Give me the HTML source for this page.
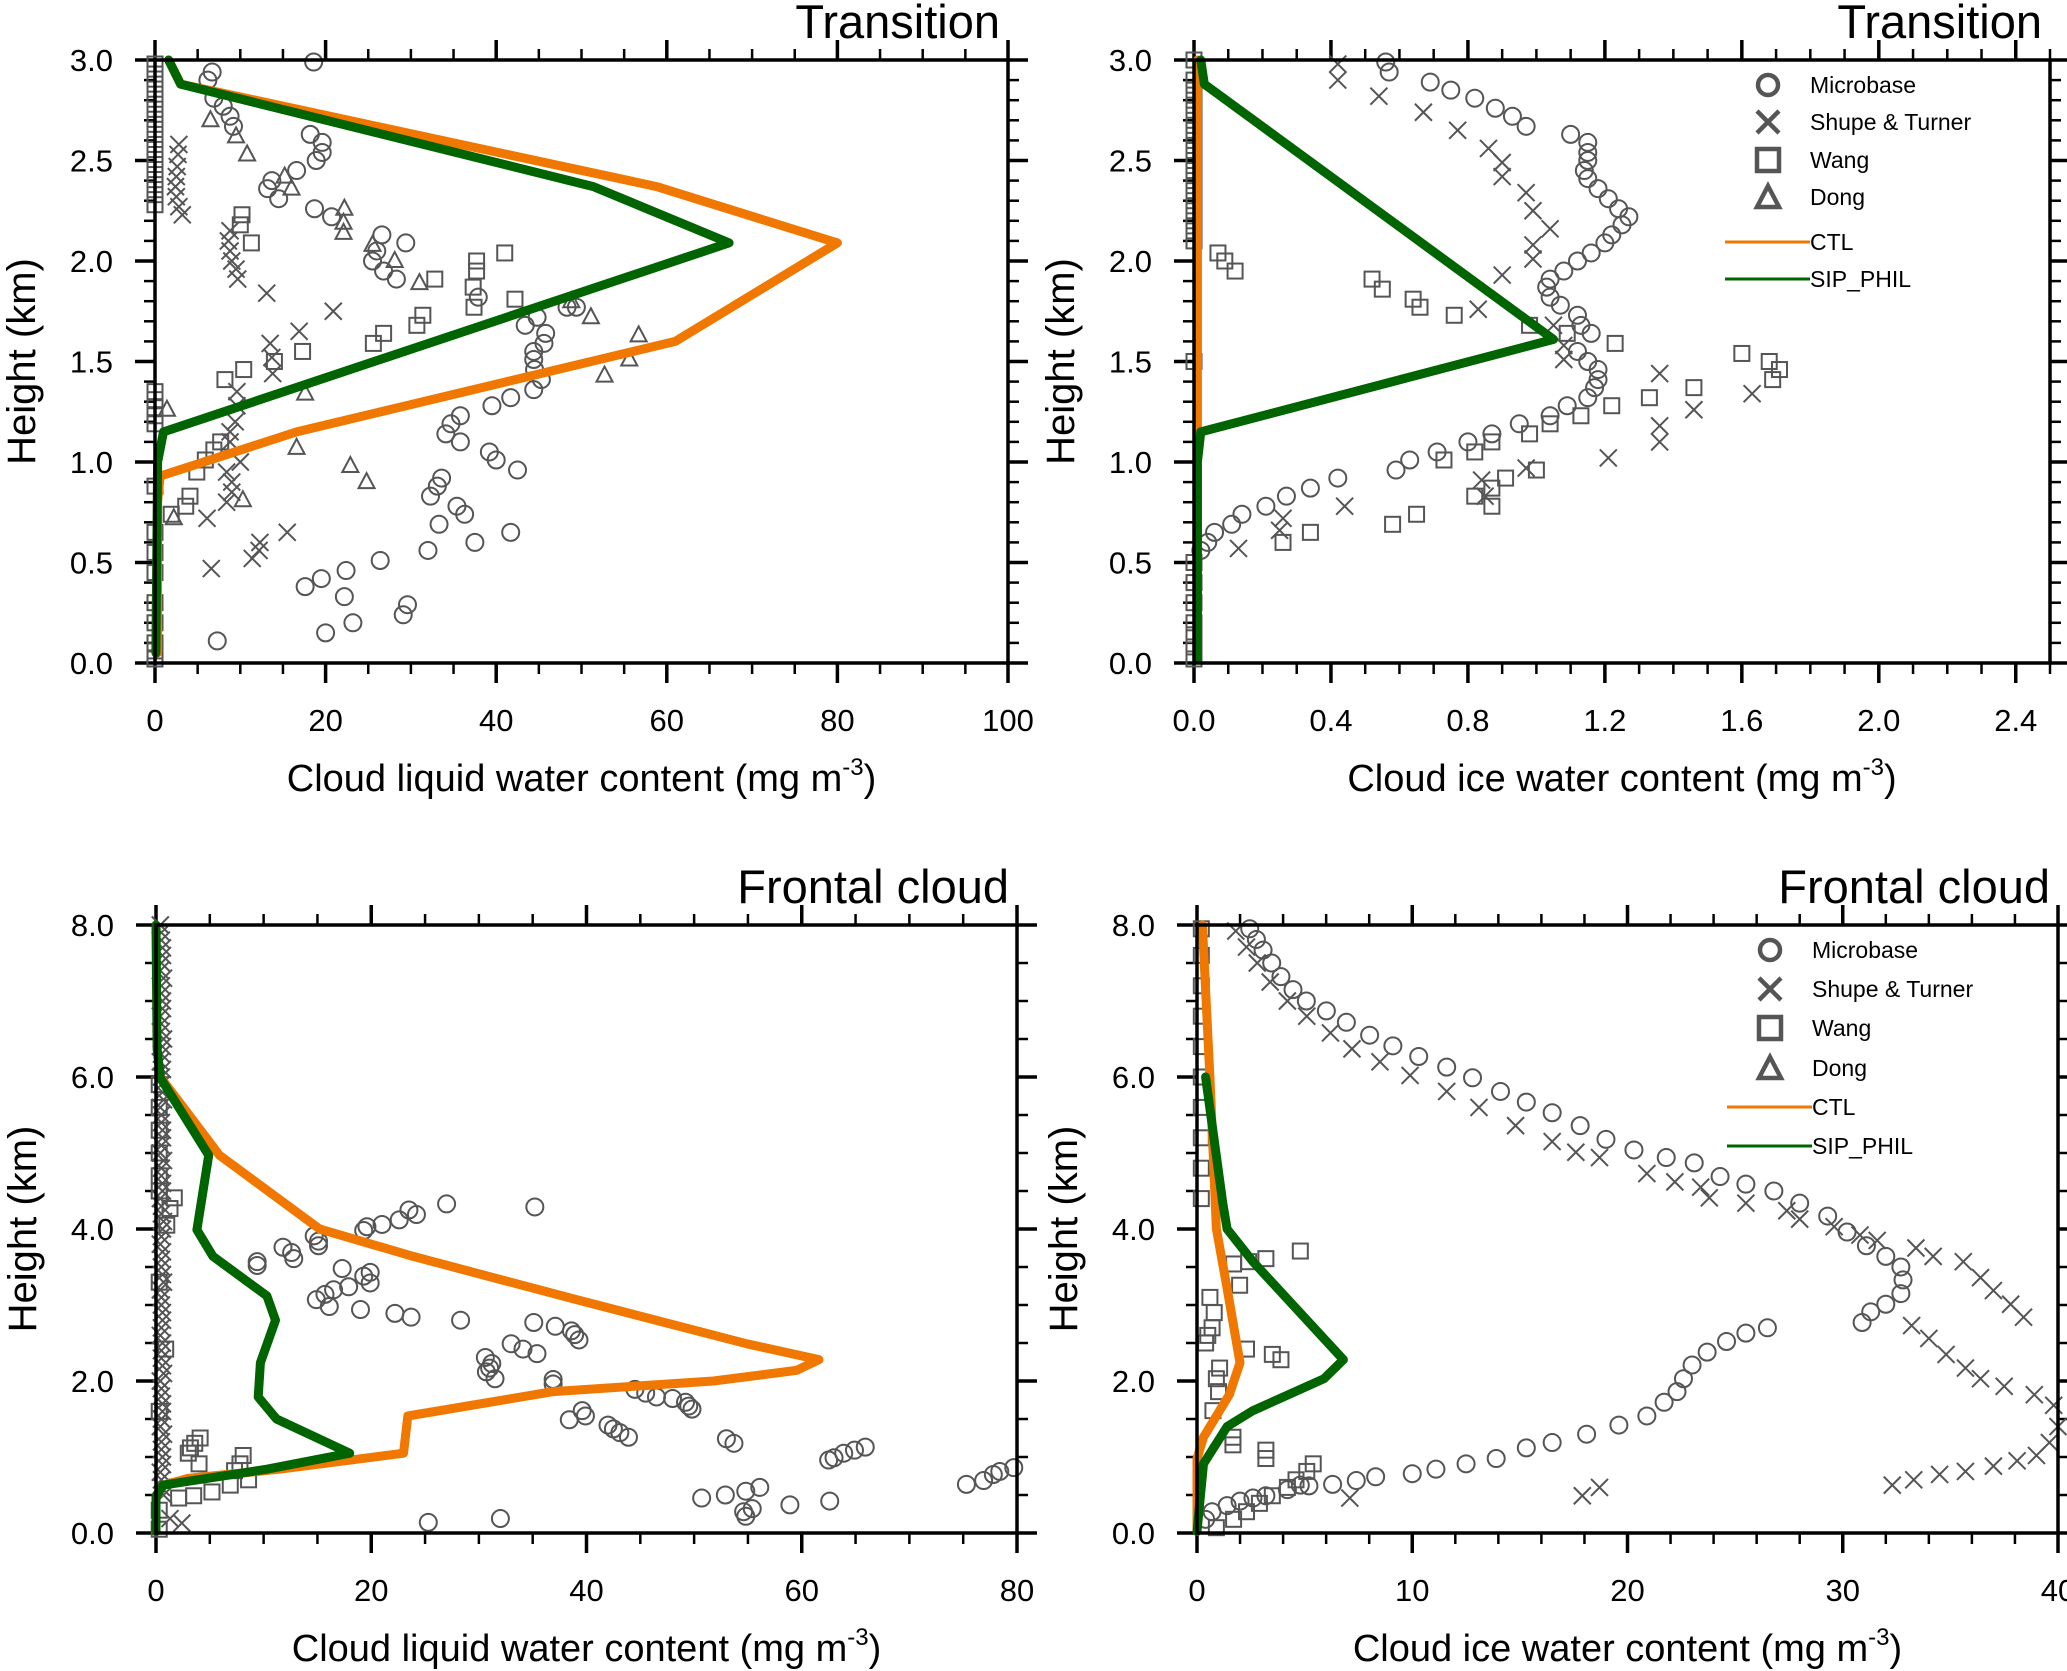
<!DOCTYPE html>
<html><head><meta charset="utf-8">
<style>
html,body{margin:0;padding:0;background:#fff;}
svg{display:block;font-family:"Liberation Sans",Arial,sans-serif;}
</style></head>
<body>
<svg id="fig" width="2067" height="1671" viewBox="0 0 2067 1671" xmlns="http://www.w3.org/2000/svg"></svg>
<script>
// ---------- DATA: Top-left (Transition, liquid) ----------
const tlCircX=[18.6,6.7,6.2,6.9,8.0,8.8,9.2,18.2,19.6,19.6,18.9,16.6,13.7,13.2,14.5,18.7,20.7,26.6,29.4,26.0,25.5,26.8,28.3,37.9,48.3,49.4,43.4,44.8,45.8,45.6,44.4,44.4,44.5,45.3,44.4,41.7,39.5,35.8,34.7,34.1,35.8,39.2,40.0,42.5,33.6,33.1,32.3,35.4,36.3,33.3,37.5,41.7,32.0,26.4,22.4,19.5,17.6,22.2,29.6,29.1,23.2,20.0,7.3];
const tlCircY=[2.99,2.94,2.9,2.81,2.77,2.72,2.67,2.63,2.59,2.54,2.5,2.45,2.4,2.36,2.31,2.26,2.22,2.13,2.09,2.05,2.0,1.95,1.91,1.82,1.77,1.77,1.68,1.72,1.64,1.59,1.55,1.51,1.46,1.41,1.36,1.32,1.28,1.23,1.19,1.14,1.1,1.05,1.01,0.96,0.92,0.88,0.83,0.78,0.74,0.69,0.6,0.65,0.56,0.51,0.46,0.42,0.38,0.33,0.29,0.24,0.2,0.15,0.11];
const tlCrossX=[2.8,2.7,2.6,2.5,2.4,2.5,2.8,3.2,8.8,8.6,8.8,9.0,9.5,9.7,13.1,20.9,16.9,13.5,13.7,13.8,9.6,9.6,9.4,8.8,8.8,10,8.4,9.0,9.0,8.4,6.1,15.5,12.3,12.2,11.4,6.6];
const tlCrossY=[2.58,2.53,2.47,2.42,2.37,2.32,2.27,2.23,2.15,2.1,2.05,2.0,1.96,1.91,1.84,1.75,1.65,1.59,1.52,1.44,1.35,1.28,1.2,1.15,1.1,1.0,0.95,0.9,0.85,0.8,0.72,0.65,0.6,0.56,0.52,0.47];
const tlSqX=[10.2,10.0,11.3,32.8,37.7,37.7,37.3,41.0,42.2,37.4,31.4,30.7,26.8,25.6,17.3,14.0,10.4,8.2,7.7,6.9,5.9,4.9,4.1,3.6,1.9,0,0,0,0,0,0,0,0,0,0,0,0,0,0,0,0,0,0,0,0,0,0,0,0,0,0,0,0,0];
const tlSqY=[2.23,2.18,2.09,1.91,2.0,1.95,1.87,2.04,1.81,1.77,1.73,1.68,1.64,1.59,1.55,1.5,1.46,1.41,1.1,1.06,1.01,0.95,0.83,0.78,0.74,2.28,2.33,2.38,2.43,2.48,2.53,2.58,2.63,2.68,2.73,2.78,2.83,2.88,2.93,2.98,1.19,1.23,1.27,1.31,1.35,0.88,0.02,0.06,0.1,0.3,0.45,0.55,0.65,0.2];
const tlTriX=[6.5,9.5,10.8,15.2,16.0,22.2,22.1,22.1,25.5,28.1,31.0,48.8,51.1,56.7,55.6,52.7,17.6,1.4,16.6,22.9,24.8,10.3,2.2];
const tlTriY=[2.7,2.62,2.53,2.42,2.36,2.26,2.19,2.14,2.08,2.0,1.89,1.8,1.72,1.63,1.51,1.43,1.34,1.26,1.07,0.98,0.9,0.81,0.72];
const tlCtlX=[1.6,3,58.8,80,61,16.6,0.6,0.3,0.3];
const tlCtlY=[3.0,2.88,2.37,2.09,1.6,1.15,0.93,0.8,0.05];
const tlSipX=[1.6,3,51.4,67.3,1.0,0.3,0.1];
const tlSipY=[3.0,2.88,2.37,2.09,1.15,1.0,0.05];
const tlXTicks=[0,20,40,60,80,100];
const tlXTickLabels=["0","20","40","60","80","100"];
const tlYTicks=[0,0.5,1,1.5,2,2.5,3];
const tlYTickLabels=["0.0","0.5","1.0","1.5","2.0","2.5","3.0"];

// ---------- DATA: Top-right (Transition, ice) ----------
const trCircX=[0.56,0.57,0.69,0.75,0.82,0.88,0.93,0.97,1.10,1.15,1.15,1.15,1.14,1.15,1.18,1.21,1.24,1.27,1.25,1.22,1.2,1.16,1.12,1.08,1.04,1.03,1.04,1.07,1.12,1.13,1.16,1.12,1.15,1.18,1.18,1.17,1.15,1.09,1.04,0.95,0.87,0.8,0.71,0.63,0.59,0.42,0.34,0.27,0.21,0.14,0.11,0.06,0.04,0.02];
const trCircY=[2.99,2.94,2.89,2.85,2.81,2.76,2.72,2.67,2.63,2.59,2.54,2.5,2.45,2.41,2.36,2.31,2.26,2.22,2.18,2.13,2.09,2.04,2.0,1.95,1.91,1.87,1.82,1.78,1.73,1.68,1.64,1.55,1.5,1.46,1.41,1.37,1.32,1.28,1.23,1.19,1.14,1.1,1.05,1.01,0.96,0.92,0.87,0.83,0.78,0.74,0.69,0.65,0.6,0.56];
const trCrossX=[0.42,0.42,0.54,0.67,0.77,0.86,0.9,0.9,0.97,0.99,1.04,0.99,0.99,0.9,0.83,1.05,1.08,1.08,1.36,1.63,1.46,1.36,1.36,1.21,0.97,0.84,0.85,0.44,0.26,0.25,0.13];
const trCrossY=[2.98,2.9,2.82,2.74,2.65,2.56,2.49,2.42,2.34,2.25,2.16,2.08,2.01,1.93,1.76,1.68,1.58,1.51,1.44,1.34,1.26,1.18,1.1,1.02,0.97,0.91,0.83,0.78,0.72,0.66,0.57];
const trSqX=[0.07,0.09,0.12,0.52,0.55,0.64,0.66,0.76,0.98,1.09,1.23,1.6,1.68,1.71,1.69,1.46,1.33,1.22,1.13,1.04,0.98,0.87,0.82,0.73,1.0,0.91,0.87,0.82,0.87,0.65,0.58,0.34,0.26,0,0,0,0,0,0,0,0,0,0,0,0,0,0,0,0,0,0,0,0,0,0,0,0,0,0];
const trSqY=[2.04,2.0,1.95,1.91,1.86,1.81,1.77,1.73,1.68,1.64,1.59,1.54,1.5,1.46,1.41,1.37,1.32,1.28,1.23,1.19,1.14,1.1,1.05,1.01,0.96,0.92,0.87,0.83,0.78,0.74,0.69,0.65,0.6,2.1,2.2,2.3,2.4,2.5,2.6,2.7,2.8,2.9,3.0,0.02,0.08,0.14,0.2,0.3,0.4,0.5,1.5,2.15,2.25,2.35,2.45,2.55,2.65,2.75,2.85];
const trCtlX=[0.01,0.01,0.01];
const trCtlY=[3.0,1.5,0.02];
const trSipX=[0.02,0.03,1.05,0.02,0.01,0.01];
const trSipY=[3.0,2.88,1.61,1.15,1.0,0.02];
const trXTicks=[0,0.4,0.8,1.2,1.6,2.0,2.4];
const trXTickLabels=["0.0","0.4","0.8","1.2","1.6","2.0","2.4"];

// ---------- DATA: Bottom-left (Frontal, liquid) ----------
const blCircX=[27,35.2,23.5,24.2,22.6,21,19.6,19.3,14.7,15.1,15.1,11.8,12.6,12.8,9.4,9.4,17.3,19.9,19.3,19.9,17.9,16.5,15.7,14.9,16.1,19,22.2,23.7,28.3,35.1,37.1,38.6,38.9,39.3,33,34.1,35.4,30.6,31.2,31,30.7,31.5,36.9,36.9,44.5,45.5,46.5,48,49.2,49.5,49.8,39.6,39.9,38.4,42,42.5,43.1,43.9,53,53.7,65.9,64.9,63.9,63,62.5,79.7,78.4,77.8,76.9,75.3,56.1,54.8,52.9,50.7,62.6,58.9,55.4,54.6,54.8,32,25.3];
const blCircY=[4.33,4.29,4.25,4.19,4.12,4.06,4.03,3.98,3.91,3.84,3.78,3.76,3.69,3.61,3.57,3.52,3.48,3.43,3.38,3.29,3.24,3.2,3.14,3.07,2.98,2.94,2.89,2.84,2.8,2.77,2.72,2.66,2.61,2.54,2.49,2.42,2.36,2.31,2.23,2.17,2.12,2.03,2.02,1.96,1.89,1.84,1.79,1.77,1.72,1.67,1.63,1.61,1.54,1.49,1.42,1.37,1.32,1.26,1.24,1.18,1.13,1.09,1.05,0.99,0.96,0.86,0.81,0.77,0.69,0.64,0.6,0.55,0.5,0.46,0.42,0.37,0.32,0.28,0.22,0.19,0.14];
const blSqX=[1.7,1.3,1,0.9,4.1,3.6,3.2,3,4,8.1,7.8,7.3,8.6,6.9,5.2,3.5,2.1,0.3,0.3,0.3,0.3,0.3,0.3,0.3,0.3,0.3,0.3];
const blSqY=[4.41,4.27,4.05,2.42,1.25,1.18,1.12,1.05,0.91,1.02,0.91,0.82,0.7,0.63,0.54,0.49,0.46,5.0,5.3,5.6,5.9,4.7,4.5,3.3,1.6,0.3,0.05];
const blCrossX=[1.3,2.4,0.5,0.6,0.5,0.7,0.5,0.6,0.5,0.7,0.5,0.6,0.5,0.7,0.5,0.6,0.5,0.7,0.5,0.6,0.5,0.7,0.5,0.6,0.5,0.7,0.5,0.6,0.5,0.6,0.5,0.7,0.5,0.6,0.5,0.7,0.5,0.6,0.5,0.7,0.4,0.5,0.6,0.4,0.5,0.6,0.4,0.5,0.6,0.4,0.5,0.6,0.4,0.5,0.6,0.4,0.5,0.6,0.4,0.5,0.6,0.4,0.5,0.6,0.4,0.5,0.6,0.4,0.5,0.6,0.4,0.5,0.6,0.4,0.5,0.6,0.4,0.5];
const blCrossY=[0.19,0.13,7.9,7.7,7.5,7.3,7.1,6.9,6.7,6.5,6.3,6.1,5.9,5.7,5.5,5.3,5.1,4.9,4.7,4.5,4.3,4.1,3.9,3.7,3.5,3.3,3.1,2.9,2.7,2.5,2.3,2.1,1.9,1.7,1.5,1.3,1.1,0.9,0.7,0.5,8.0,7.8,7.6,7.4,7.2,7.0,6.8,6.6,6.4,6.2,6.0,5.8,5.6,5.4,5.2,5.0,4.8,4.6,4.4,4.2,4.0,3.8,3.6,3.4,3.2,3.0,2.8,2.6,2.4,2.2,2.0,1.8,1.6,1.4,1.2,1.0,0.8,0.6];
const blCtlX=[0.4,5.9,15.2,23.9,38.8,54.9,61.6,59.5,51.8,36.9,23.4,23,11.5,3,0.7,0,0];
const blCtlY=[6.0,4.97,4.0,3.64,3.08,2.49,2.28,2.14,2.0,1.86,1.54,1.05,0.84,0.72,0.63,0.49,0.02];
const blSipX=[0,0.1,0.4,4.9,3.8,5.3,10.3,11.1,9.7,9.5,11.2,18,10.3,0.7,0,0];
const blSipY=[8,6.37,5.99,4.97,3.99,3.64,3.12,2.8,2.24,1.79,1.5,1.05,0.84,0.63,0.49,0.02];
const blXTicks=[0,20,40,60,80];
const blXTickLabels=["0","20","40","60","80"];
const bYTicks=[0,2,4,6,8];
const bYTickLabels=["0.0","2.0","4.0","6.0","8.0"];

// ---------- DATA: Bottom-right (Frontal, ice) ----------
const brCircX=[2.45,2.76,3.07,3.47,3.9,4.46,5.08,6.01,6.94,8.02,9.1,10.3,11.6,12.8,14.1,15.3,16.5,17.8,19.0,20.3,21.8,23.1,24.3,25.5,26.8,28,29.3,30.2,31.1,32.0,32.7,32.8,32.7,32.0,31.3,30.9,26.5,25.5,24.6,23.7,23.0,22.6,22.3,21.7,20.9,19.6,18.1,16.5,15.3,13.9,12.5,11.1,10.0,8.3,7.4,6.3,5.2,4.8,4.2,3.2,2.6,2.0,1.4,0.7,0.4];
const brCircY=[7.95,7.81,7.67,7.5,7.32,7.15,7.0,6.87,6.72,6.55,6.41,6.27,6.13,5.99,5.81,5.67,5.53,5.36,5.18,5.04,4.94,4.87,4.69,4.59,4.5,4.34,4.17,3.96,3.78,3.64,3.5,3.33,3.15,3.01,2.91,2.77,2.7,2.63,2.52,2.38,2.21,2.03,1.86,1.72,1.54,1.42,1.3,1.19,1.12,0.98,0.91,0.84,0.78,0.74,0.69,0.64,0.62,0.63,0.57,0.49,0.46,0.42,0.36,0.28,0.18];
const brCrossX=[1.8,2.3,2.8,3.4,4.2,5.1,6.2,7.2,8.5,9.9,11.6,13.1,14.8,16.5,17.6,18.7,20.9,22.2,23.4,23.8,25.5,27.4,28,29.6,30.8,31.6,33.4,34.2,35.6,36.4,37.0,37.8,38.4,33.2,34.0,34.8,35.7,36.4,37.5,38.9,39.8,40,39.6,39,38.1,37,35.7,34.5,33.3,32.3,18.7,17.9,7.1];
const brCrossY=[7.92,7.71,7.5,7.25,7.0,6.8,6.58,6.37,6.2,6.02,5.81,5.6,5.36,5.15,5.01,4.94,4.73,4.62,4.55,4.41,4.34,4.24,4.13,4.03,3.92,3.85,3.75,3.64,3.57,3.36,3.19,3.01,2.84,2.73,2.56,2.35,2.17,2.03,1.93,1.82,1.68,1.4,1.19,1.02,0.95,0.88,0.81,0.77,0.7,0.63,0.6,0.49,0.46];
const brSqX=[4.8,3.2,2.4,1.7,1.98,2.3,3.5,3.9,1.05,0.9,1.0,0.74,1.67,1.67,3.2,3.2,5.4,5.1,4.6,4.2,3.5,2.9,2.3,1.7,0.9,0.6,0.8,0.7,0.5,0.4,0.2,0.2,0.2,0.2,0.2,0.2,0.2,0.2,0.2,0.2];
const brSqY=[3.71,3.61,3.57,3.54,3.26,2.42,2.35,2.28,2.17,2.03,1.86,1.61,1.26,1.16,1.09,0.98,0.91,0.81,0.7,0.6,0.49,0.39,0.28,0.18,0.07,3.1,2.9,2.7,2.6,2.5,4.4,4.8,5.2,5.6,6.0,6.4,6.8,7.2,7.6,7.95];
const brCtlX=[0.25,0.6,0.9,1.4,2.0,1.5,0.3,0,0];
const brCtlY=[8,6.0,4.0,3.22,2.24,1.82,1.26,0.98,0.02];
const brSipX=[0.4,1.2,1.4,2.6,6.8,5.9,2.6,1.4,0.3,0];
const brSipY=[6.0,4.34,4.0,3.57,2.28,2.03,1.61,1.4,0.91,0.02];
const brXTicks=[0,10,20,30,40];
const brXTickLabels=["0","10","20","30","40"];

// ---------- DRAWING ----------
const NS="http://www.w3.org/2000/svg";
const svg=document.getElementById("fig");
function mk(tag,attrs,parent){const e=document.createElementNS(NS,tag);for(const k in attrs)e.setAttribute(k,attrs[k]);(parent||svg).appendChild(e);return e;}
const GRAY="#555";

function panel(p){
  const g=mk("g",{});
  
  
  const sx=v=>p.x0+(v-p.xmin)/(p.xmax-p.xmin)*(p.x1-p.x0);
  const sy=v=>p.y0-(v-p.ymin)/(p.ymax-p.ymin)*(p.y0-p.y1);
  for(let v=p.xmin;v<=p.xmax+1e-9;v+=p.xminor){const X=sx(v);
    mk("line",{x1:X,x2:X,y1:p.y0,y2:p.y0+11,stroke:"#000","stroke-width":2.5},g);
    mk("line",{x1:X,x2:X,y1:p.y1,y2:p.y1-11,stroke:"#000","stroke-width":2.5},g);}
  for(let v=p.ymin;v<=p.ymax+1e-9;v+=p.yminor){const Y=sy(v);
    mk("line",{x1:p.x0,x2:p.x0-11,y1:Y,y2:Y,stroke:"#000","stroke-width":2.5},g);
    mk("line",{x1:p.x1,x2:p.x1+11,y1:Y,y2:Y,stroke:"#000","stroke-width":2.5},g);}
  p.xt.forEach((v,i)=>{const X=sx(v);
    mk("line",{x1:X,x2:X,y1:p.y0,y2:p.y0+20,stroke:"#000","stroke-width":3.5},g);
    mk("line",{x1:X,x2:X,y1:p.y1,y2:p.y1-20,stroke:"#000","stroke-width":3.5},g);
    const t=mk("text",{x:X,y:p.y0+68,"text-anchor":"middle","font-size":31},g);t.textContent=p.xtl[i];
    
    });
  p.yt.forEach((v,i)=>{const Y=sy(v);
    mk("line",{x1:p.x0,x2:p.x0-20,y1:Y,y2:Y,stroke:"#000","stroke-width":3.5},g);
    mk("line",{x1:p.x1,x2:p.x1+20,y1:Y,y2:Y,stroke:"#000","stroke-width":3.5},g);
    const t=mk("text",{x:p.x0-42,y:Y+11,"text-anchor":"end","font-size":31},g);t.textContent=p.ytl[i];
    
    });
  const sg=mk("g",{fill:"none",stroke:GRAY,"stroke-width":2},g);
  const r=8.5;
  p.circ[0].forEach((v,i)=>{const c=mk("circle",{cx:sx(v),cy:sy(p.circ[1][i]),r:r},sg);
    
    });
  p.cross[0].forEach((v,i)=>{const X=sx(v),Y=sy(p.cross[1][i]);
    const c=mk("path",{d:`M${X-r} ${Y-r}L${X+r} ${Y+r}M${X-r} ${Y+r}L${X+r} ${Y-r}`},sg);
    
    });
  p.sq[0].forEach((v,i)=>{const X=sx(v),Y=sy(p.sq[1][i]);
    const c=mk("rect",{x:X-7.5,y:Y-7.5,width:15,height:15},sg);
    
    });
  if(p.tri) p.tri[0].forEach((v,i)=>{const X=sx(v),Y=sy(p.tri[1][i]);
    const c=mk("path",{d:`M${X} ${Y-9}L${X+8} ${Y+6}L${X-8} ${Y+6}Z`},sg);
    
    });
  const pts=(xs,ys)=>xs.map((v,i)=>sx(v).toFixed(1)+","+sy(ys[i]).toFixed(1)).join(" ");
  const lc=mk("polyline",{points:pts(p.ctl[0],p.ctl[1]),fill:"none",stroke:"#f07800","stroke-width":9,"stroke-linejoin":"round","stroke-linecap":"round"},g);
  
  
  const ls=mk("polyline",{points:pts(p.sip[0],p.sip[1]),fill:"none",stroke:"#006400","stroke-width":9,"stroke-linejoin":"round","stroke-linecap":"round"},g);
  
  
  const fr=mk("rect",{x:p.x0,y:p.y1,width:p.x1-p.x0,height:p.y0-p.y1,fill:"none",stroke:"#000","stroke-width":3.5},g);
  
  
  const tt=mk("text",{x:p.x1-8,y:p.y1-22,"text-anchor":"end","font-size":47},g);tt.textContent=p.title;
  
  
  const xt=mk("text",{x:(p.x0+p.x1)/2,y:p.y0+128,"text-anchor":"middle","font-size":38},g);
  xt.innerHTML=p.xlabel+' (mg m<tspan dy="-16" font-size="24">-3</tspan><tspan dy="16">)</tspan>';
  
  
  const cy=(p.y0+p.y1)/2, cx=p.x0-120;
  const yt=mk("text",{x:cx,y:cy,"text-anchor":"middle","font-size":40,transform:`rotate(-90 ${cx} ${cy})`},g);
  yt.textContent="Height (km)";
  
  
  if(p.legend){const L=p.legend;const lg=mk("g",{},g);
    
    
    const ms=mk("g",{fill:"none",stroke:GRAY,"stroke-width":4.5},lg);
    const mx=L.x, rows=L.rows;
    mk("circle",{cx:mx,cy:rows[0],r:10},ms);
    mk("path",{d:`M${mx-11} ${rows[1]-11}L${mx+11} ${rows[1]+11}M${mx-11} ${rows[1]+11}L${mx+11} ${rows[1]-11}`},ms);
    mk("rect",{x:mx-11,y:rows[2]-11,width:22,height:22},ms);
    mk("path",{d:`M${mx} ${rows[3]-11}L${mx+11} ${rows[3]+10}L${mx-11} ${rows[3]+10}Z`},ms);
    mk("line",{x1:mx-43,x2:mx+42,y1:rows[4],y2:rows[4],stroke:"#f07800","stroke-width":3},lg);
    mk("line",{x1:mx-43,x2:mx+42,y1:rows[5],y2:rows[5],stroke:"#006400","stroke-width":3},lg);
    const labels=["Microbase","Shupe & Turner","Wang","Dong","CTL","SIP_PHIL"];
    labels.forEach((s,i)=>{const t=mk("text",{x:mx+42,y:rows[i]+8,"font-size":23},lg);t.textContent=s;
      
      });
  }
}

panel({name:"panel-transition-liquid",x0:155,x1:1008,y0:663,y1:60,xmin:0,xmax:100,ymin:0,ymax:3,xminor:5,yminor:0.1,
  xt:tlXTicks,xtl:tlXTickLabels,yt:tlYTicks,ytl:tlYTickLabels,title:"Transition",xlabel:"Cloud liquid water content",
  circ:[tlCircX,tlCircY],cross:[tlCrossX,tlCrossY],sq:[tlSqX,tlSqY],tri:[tlTriX,tlTriY],ctl:[tlCtlX,tlCtlY],sip:[tlSipX,tlSipY]});
panel({name:"panel-transition-ice",x0:1194,x1:2050,y0:663,y1:60,xmin:0,xmax:2.5,ymin:0,ymax:3,xminor:0.1,yminor:0.1,
  xt:trXTicks,xtl:trXTickLabels,yt:tlYTicks,ytl:tlYTickLabels,title:"Transition",xlabel:"Cloud ice water content",
  circ:[trCircX,trCircY],cross:[trCrossX,trCrossY],sq:[trSqX,trSqY],ctl:[trCtlX,trCtlY],sip:[trSipX,trSipY],
  legend:{x:1768,rows:[85,122,160,197,242,279]}});
panel({name:"panel-frontal-liquid",x0:156,x1:1017,y0:1533,y1:925,xmin:0,xmax:80,ymin:0,ymax:8,xminor:5,yminor:0.5,
  xt:blXTicks,xtl:blXTickLabels,yt:bYTicks,ytl:bYTickLabels,title:"Frontal cloud",xlabel:"Cloud liquid water content",
  circ:[blCircX,blCircY],cross:[blCrossX,blCrossY],sq:[blSqX,blSqY],ctl:[blCtlX,blCtlY],sip:[blSipX,blSipY]});
panel({name:"panel-frontal-ice",x0:1197,x1:2058,y0:1533,y1:925,xmin:0,xmax:40,ymin:0,ymax:8,xminor:2,yminor:0.5,
  xt:brXTicks,xtl:brXTickLabels,yt:bYTicks,ytl:bYTickLabels,title:"Frontal cloud",xlabel:"Cloud ice water content",
  circ:[brCircX,brCircY],cross:[brCrossX,brCrossY],sq:[brSqX,brSqY],ctl:[brCtlX,brCtlY],sip:[brSipX,brSipY],
  legend:{x:1770,rows:[950,989,1028,1068,1107,1146]}});
</script>
</body></html>
